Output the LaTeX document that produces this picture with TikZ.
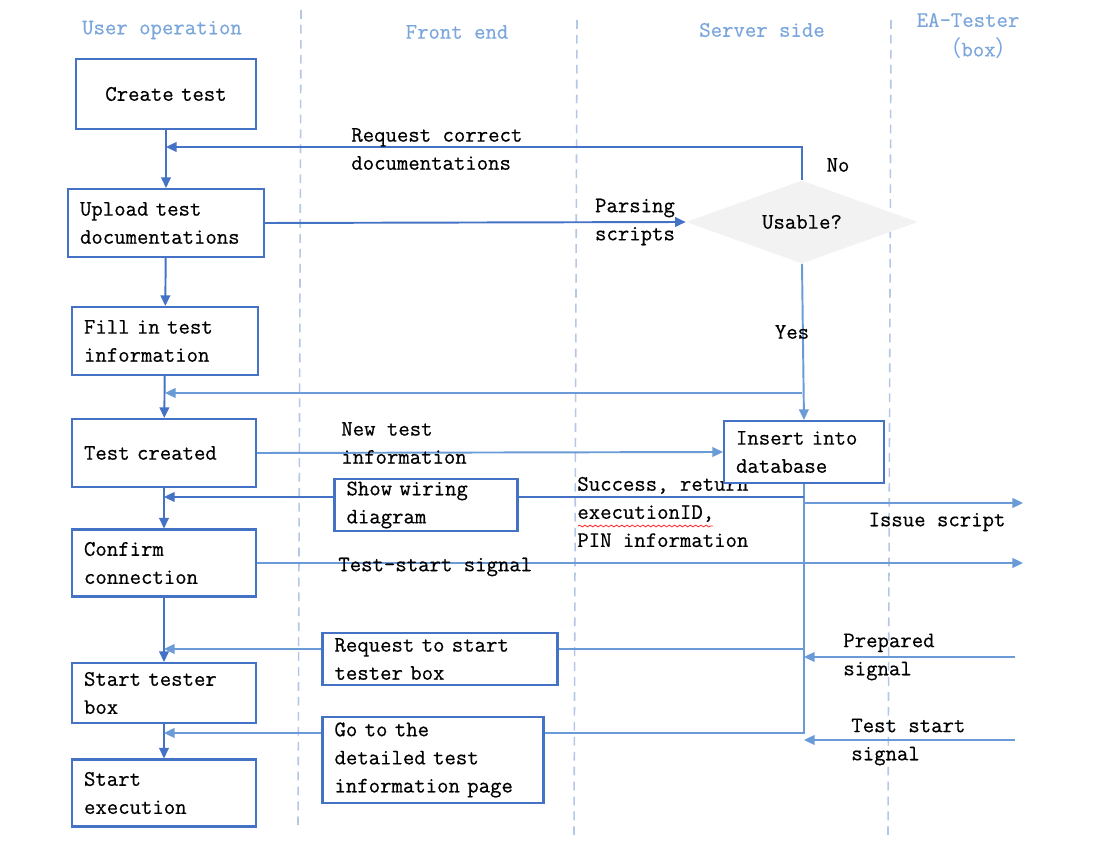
\documentclass[tikz,border=0pt]{standalone}
\usepackage{fontspec}
\setmonofont{Latin Modern Mono}[FakeBold=0.5]
\newfontfamily\cjkfont{Noto Sans CJK SC}
\usetikzlibrary{arrows.meta, shapes.geometric, decorations.pathmorphing}
\definecolor{boxblue}{HTML}{4472C4}
\definecolor{lineblue}{HTML}{6A9BD6}
\definecolor{laneblue}{HTML}{B4C7E7}
\definecolor{headblue}{HTML}{7AA6DC}
\tikzset{
  flowbox/.style={draw=boxblue, line width=1.2pt, fill=white, inner xsep=0.24cm, inner ysep=0pt, align=left},
  lane/.style={laneblue, line width=0.9pt, dash pattern=on 5pt off 3.5pt},
  head/.style={headblue},
  flow/.style={boxblue, line width=1.1pt, -{Triangle[length=6pt,width=5.5pt]}},
  sig/.style={lineblue, line width=1.1pt, -{Triangle[length=6pt,width=5.5pt]}},
  plain/.style={lineblue, line width=1.1pt},
  lbl/.style={align=left, inner sep=0pt},
}
\begin{document}
\begin{tikzpicture}[x=0.02cm, y=-0.02cm, font=\ttfamily\fontsize{12.6}{16}\selectfont]
  \useasboundingbox (0,0) rectangle (1100,864);
  % lanes
  \draw[lane] (301,10) -- (298,828);
  \draw[lane] (577,20) -- (574,835);
  \draw[lane] (891,20) -- (888,835);
  % headers
  \node[head] (hUser) at (162,30) {User operation};
  \node[head] (hFront) at (457,32) {Front end};
  \node[head] (hServer) at (762,30) {Server side};
  \node[head] (hTester) at (968,20) {EA-Tester};
  \node[head, anchor=east] (hBox) at (1024,48) {{\cjkfont （}box{\cjkfont ）}};
  % user operation
  \node[flowbox, align=center, text width=3.12cm, minimum height=1.4cm] (create) at (166,94) {Create test};
  \node[flowbox, text width=3.44cm, minimum height=1.36cm] (upload) at (166,223) {Upload test\\documentations};
  \node[flowbox, text width=3.24cm, minimum height=1.36cm] (fill) at (165,341) {Fill in test\\information};
  \node[flowbox, text width=3.2cm, minimum height=1.36cm] (created) at (164,453) {Test created};
  \node[flowbox, text width=3.2cm, minimum height=1.34cm] (confirm) at (164,563) {Confirm\\connection};
  \node[flowbox, text width=3.2cm, minimum height=1.2cm] (tester) at (164,693) {Start tester\\box};
  \node[flowbox, text width=3.2cm, minimum height=1.34cm] (exec) at (164,793) {Start\\execution};
  % front end
  \node[flowbox, text width=3.18cm, minimum height=1.04cm] (wiring) at (426,505) {Show wiring\\diagram};
  \node[flowbox, text width=4.22cm, minimum height=1.04cm] (request) at (440,659) {Request to start\\tester box};
  \node[flowbox, text width=3.94cm, minimum height=1.72cm] (goto) at (433,760) {Go to the\\detailed test\\information page};
  % server side
  \node[diamond, aspect=2.8, fill=black!5, inner sep=0pt, minimum width=4.64cm, minimum height=1.66cm] (usable) at (802,222) {Usable?};
  \node[lbl, anchor=west] (lSucc) at (577,512) {Success, return\\executionID,\\PIN information};
  \node[flowbox, text width=2.72cm, minimum height=1.24cm] (insert) at (804,452) {Insert into\\database};
  % helper rows
  \coordinate (noY) at (0,147);
  \coordinate (yesY) at (0,393);
  \coordinate (wireY) at (0,497);
  \coordinate (issueEnd) at (1023,503);
  \coordinate (startEnd) at (1023,563);
  \coordinate (reqY) at (0,649);
  \coordinate (gotoY) at (0,733);
  \coordinate (prepStart) at (1015,657);
  \coordinate (tstartStart) at (1015,740);
  % connectors
  \draw[flow] (create) -- (upload);
  \draw[flow] (upload) -- (fill);
  \draw[flow] (fill) -- (created);
  \draw[flow] (created) -- (confirm);
  \draw[flow] (confirm) -- (tester);
  \draw[flow] (tester) -- (exec);
  \draw[flow] (usable.north) |- (create.south |- noY);
  \draw[flow] (upload.east) -- (usable.west);
  \draw[sig] (usable.south) -- (insert.north);
  \draw[sig] (usable.south |- yesY) -- (fill.south |- yesY);
  \draw[sig] (created.east) -- (insert.west);
  \draw[plain] (insert.south) -- (insert.south |- gotoY) -- (goto.east |- gotoY);
  \draw[boxblue, line width=1.1pt] (insert.south |- wireY) -- (wiring.east |- wireY);
  \draw[flow] (wiring.west |- wireY) -- (created.south |- wireY);
  \draw[sig] (insert.south |- issueEnd) -- (issueEnd);
  \draw[sig] (confirm.east) -- (startEnd);
  \draw[plain] (insert.south |- reqY) -- (request.east |- reqY);
  \draw[sig] (request.west |- reqY) -- (tester.north |- reqY);
  \draw[sig] (goto.west |- gotoY) -- (tester.south |- gotoY);
  \draw[sig] (prepStart) -- (insert.south |- prepStart);
  \draw[sig] (tstartStart) -- (insert.south |- tstartStart);
  % labels
  \node[lbl, anchor=west] (lReq) at (351,149) {Request correct\\documentations};
  \node (lNo) at (838,165) {No};
  \node[lbl] (lParse) at (635,222) {Parsing\\scripts};
  \node (lYes) at (792,332) {Yes};
  \node[lbl, anchor=west] (lNew) at (341,443) {New test\\information};
  \node (lIssue) at (937,522) {Issue script};
  \node[lbl, anchor=west] (lTss) at (338,567) {Test-start signal};
  \node[lbl, anchor=west] (lPrep) at (843,657) {Prepared\\signal};
  \node[lbl, anchor=west] (lTst) at (851,742) {Test start\\signal};
  % spell-check mark
  \draw[red!80, line width=0.5pt, decorate, decoration={snake, amplitude=0.5pt, segment length=3pt}] (578,526) -- (713,526);
\end{tikzpicture}
\end{document}
